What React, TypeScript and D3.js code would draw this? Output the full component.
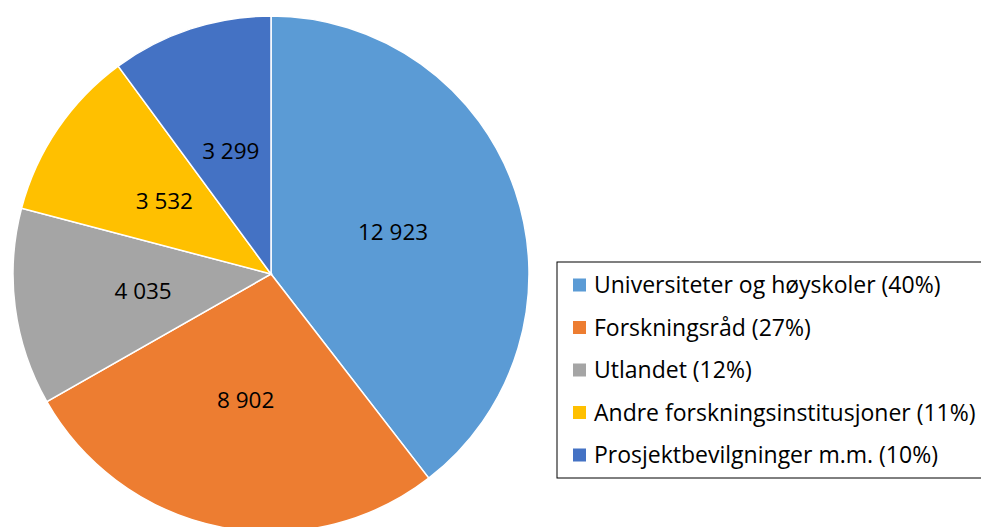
import { useEffect, useRef } from 'react'
import * as d3 from 'd3'

const categories = [
  'Universiteter og høyskoler',
  'Forskningsråd',
  'Utlandet',
  'Andre forskningsinstitusjoner',
  'Prosjektbevilgninger m.m.',
]
const values = [12923, 8902, 4035, 3532, 3299]
const valueLabels = ['12 923', '8 902', '4 035', '3 532', '3 299']
const shareLabels = ['40%', '27%', '12%', '11%', '10%']
const colors = ['#5b9bd5', '#ed7d31', '#a5a5a5', '#ffc000', '#4472c4']

export default function App() {
  const ref = useRef<SVGSVGElement | null>(null)

  useEffect(() => {
    const width = 981
    const height = 527
    const svg = d3.select(ref.current)
    svg.selectAll('*').remove()
    svg.attr('viewBox', `0 0 ${width} ${height}`)

    const cx = 271
    const cy = 274
    const r = 258
    const font = '"Open Sans", sans-serif'

    const pie = d3.pie<number>().sort(null).value(d => d)
    const arcs = pie(values)
    const arc = d3.arc<d3.PieArcDatum<number>>().innerRadius(0).outerRadius(r)

    const g = svg.append('g').attr('transform', `translate(${cx},${cy})`)
    g.selectAll('path').data(arcs).enter().append('path')
      .attr('d', arc)
      .attr('fill', (d, i) => colors[i])
      .attr('stroke', '#fff')
      .attr('stroke-width', 1.5)

    g.selectAll('text').data(arcs).enter().append('text')
      .attr('transform', d => `translate(${arc.centroid(d)})`)
      .attr('text-anchor', 'middle')
      .attr('dy', '0.35em')
      .style('font-family', font)
      .style('font-size', '22.5px')
      .attr('fill', '#000')
      .text((d, i) => valueLabels[i])

    // Legend
    const lg = svg.append('g').attr('transform', 'translate(557,262)')
    lg.append('rect')
      .attr('x', 0).attr('y', 0).attr('width', 440).attr('height', 216)
      .attr('fill', '#fff').attr('stroke', '#000').attr('stroke-width', 1)
    const items = lg.selectAll('g.item').data(categories).enter().append('g')
      .attr('class', 'item')
      .attr('transform', (d, i) => `translate(16,${23 + i * 42.5})`)
    items.append('rect')
      .attr('x', 0).attr('y', -6.5).attr('width', 13).attr('height', 13)
      .attr('fill', (d, i) => colors[i])
    items.append('text')
      .attr('x', 21).attr('dy', '0.35em')
      .style('font-family', font)
      .style('font-size', '23px')
      .attr('fill', '#000')
      .text((d, i) => `${d} (${shareLabels[i]})`)
  }, [])

  return <svg ref={ref} width={981} height={527} style={{ display: 'block', position: 'absolute', left: 0, top: 0 }} />
}
